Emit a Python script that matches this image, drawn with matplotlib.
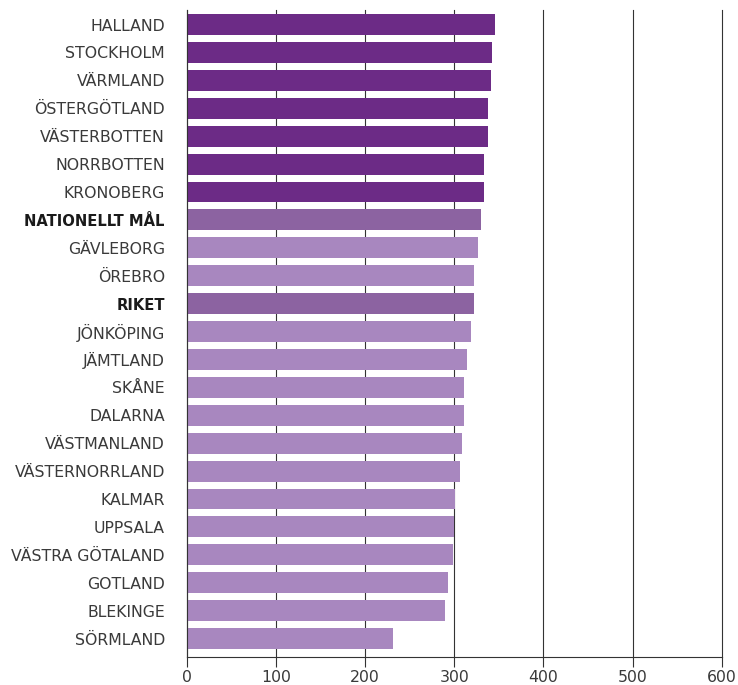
import matplotlib.pyplot as plt

regions = ["HALLAND", "STOCKHOLM", "VÄRMLAND", "ÖSTERGÖTLAND", "VÄSTERBOTTEN",
           "NORRBOTTEN", "KRONOBERG", "NATIONELLT MÅL", "GÄVLEBORG", "ÖREBRO",
           "RIKET", "JÖNKÖPING", "JÄMTLAND", "SKÅNE", "DALARNA", "VÄSTMANLAND",
           "VÄSTERNORRLAND", "KALMAR", "UPPSALA", "VÄSTRA GÖTALAND", "GOTLAND",
           "BLEKINGE", "SÖRMLAND"]
values = [346, 342, 341, 338, 338, 333, 333, 330, 327, 322, 322, 319, 314,
          311, 311, 309, 306, 301, 300, 298, 293, 290, 231]
xticks = [0, 100, 200, 300, 400, 500, 600]

# regions above the national target get dark purple, reference rows medium
highlight = {"NATIONELLT MÅL", "RIKET"}
dark, mid, light = "#6c2b86", "#8c63a1", "#a887bf"
target = values[regions.index("NATIONELLT MÅL")]
colors = []
for r, v in zip(regions, values):
    if r in highlight:
        colors.append(mid)
    elif v > target:
        colors.append(dark)
    else:
        colors.append(light)

plt.rcParams['font.family'] = ['DejaVu Sans']

fig = plt.figure(figsize=(7.38, 6.85), dpi=100)
ax = fig.add_axes([187 / 738, 1 - 657 / 685, (721.7 - 187) / 738, (657 - 10) / 685])

ypos = list(range(len(regions)))
ax.barh(ypos, values, height=0.75, color=colors, zorder=3)

ax.set_xlim(0, 600)
ax.set_ylim(22.66, -0.52)
ax.set_xticks(xticks)
ax.set_xticklabels([str(t) for t in xticks], fontsize=11.3, color="#3a3a3a")
ax.set_yticks(ypos)
ax.set_yticklabels(regions, fontsize=11.3, color="#3a3a3a")
for lbl in ax.get_yticklabels():
    if lbl.get_text() in highlight:
        lbl.set_fontweight("bold")
        lbl.set_fontsize(10.6)
        lbl.set_color("#1a1a1a")

ax.tick_params(axis="y", length=0, pad=16)
ax.tick_params(axis="x", length=7.5, width=0.8, color="#333333", pad=1.5)
ax.grid(axis="x", color="#333333", lw=0.8, zorder=1)
for gl in ax.xaxis.get_gridlines():
    gl.set_clip_on(False)
for s in ["top", "right"]:
    ax.spines[s].set_visible(False)
for s in ["left", "bottom"]:
    ax.spines[s].set_color("#333333")
    ax.spines[s].set_linewidth(0.8)
    ax.spines[s].set_zorder(4)

fig.savefig("out.png", dpi=100)
